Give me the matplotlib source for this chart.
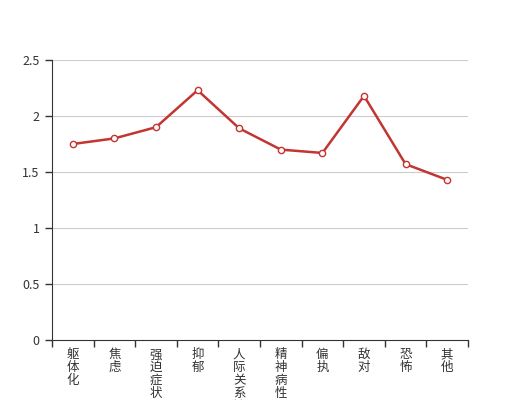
import matplotlib
matplotlib.use('Agg')
import matplotlib.pyplot as plt
import numpy as np

plt.rcParams['font.family'] = ['Noto Sans CJK SC', 'DejaVu Sans']

categories = ['躯体化', '焦虑', '强迫症状', '抑郁', '人际关系敏感',
              '精神病性', '偏执', '敌对', '恐怖', '其他']
values = [1.75, 1.80, 1.90, 2.23, 1.89, 1.70, 1.67, 2.18, 1.57, 1.43]
yticks = [0, 0.5, 1, 1.5, 2, 2.5]
ytick_labels = ['0', '0.5', '1', '1.5', '2', '2.5']

fig = plt.figure(figsize=(5.2, 4), dpi=100)
ax = fig.add_axes([52/520, 60/400, 416/520, 280/400])

x = np.arange(len(categories))
ax.plot(x, values, '-', color='#c23531', lw=1.8, marker='o', markersize=4.5,
        markerfacecolor='white', markeredgecolor='#c23531', markeredgewidth=1, zorder=3)

ax.set_xlim(-0.5, len(categories) - 0.5)
ax.set_ylim(0, 2.5)
ax.set_yticks(yticks)
ax.set_yticklabels(ytick_labels)
for yv in yticks[1:]:
    ax.axhline(yv, color='#cccccc', lw=0.8, zorder=1)

ax.set_xticks(x)
ax.set_xticklabels(['\n'.join(c) for c in categories], linespacing=0.98,
                   va='top', color='#333333')
ax.set_xticks(np.arange(-0.5, len(categories)), minor=True)
ax.tick_params(axis='x', which='major', length=0, pad=6, labelsize=9)
ax.tick_params(axis='x', which='minor', length=5, direction='out', color='#333333', width=1)
ax.tick_params(axis='y', length=5, direction='out', color='#333333', width=1,
               labelsize=9, labelcolor='#333333', pad=4)

for s in ['top', 'right']:
    ax.spines[s].set_visible(False)
ax.spines['left'].set_color('#333333')
ax.spines['bottom'].set_color('#333333')

fig.savefig('out.png', dpi=100)
